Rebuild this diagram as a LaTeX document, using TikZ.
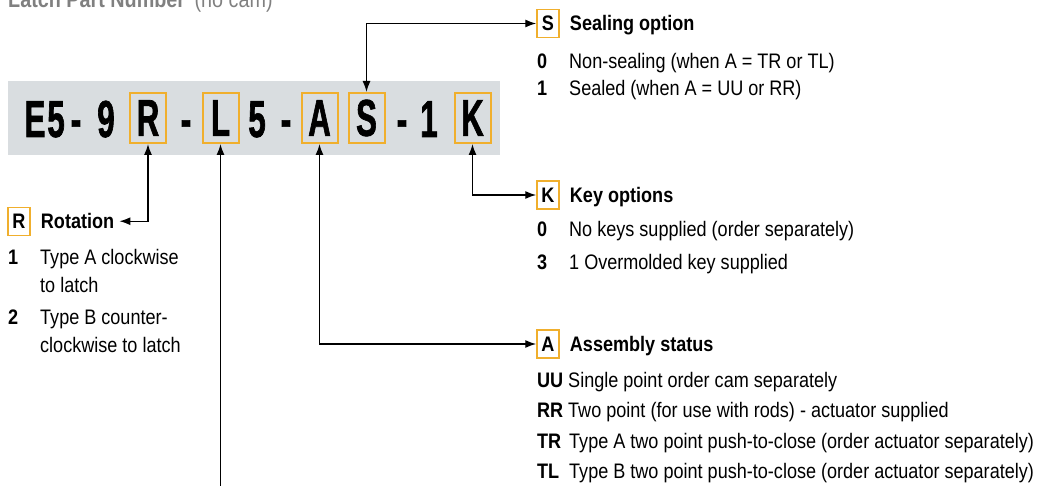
\documentclass[tikz,border=0pt]{standalone}
\usepackage{fontspec}
\setmainfont{Liberation Sans}[FakeStretch=0.86]
\newfontfamily\partfont{Liberation Sans}[FakeStretch=0.6, BoldFeatures={FakeBold=1.2}]
\usetikzlibrary{positioning,arrows.meta}
\definecolor{keyorange}{RGB}{240,175,45}
\definecolor{partgray}{RGB}{217,221,224}
\definecolor{titlegray}{RGB}{128,128,128}

\begin{document}
\begin{tikzpicture}[x=1pt, y=-1pt,
				partbox/.style={rectangle, draw=keyorange, line width=2pt, minimum width=36pt, minimum height=50pt, inner sep=0pt, font=\partfont\fontsize{52}{52}\bfseries},
				partchar/.style={anchor=base, inner sep=0pt, font=\partfont\fontsize{52}{52}\bfseries},
				keybox/.style={rectangle, draw=keyorange, line width=1.5pt, minimum width=22pt, minimum height=28pt, inner sep=0pt, font=\fontsize{21}{21}\bfseries},
				head/.style={inner sep=0pt, font=\fontsize{21}{21}\bfseries},
				code/.style={anchor=base west, inner sep=0pt, font=\fontsize{21}{21}\bfseries},
				desc/.style={anchor=base west, inner sep=0pt, align=left, font=\fontsize{21}{28}\selectfont}
			]
			\useasboundingbox (0,0) rectangle (1041,486);
			\clip (0,0) rectangle (1041,486);
			\node[anchor=base west, inner sep=0pt, text=titlegray, font=\fontsize{23}{23}\bfseries] (title) at (8,8) {Latch Part Number\hspace{4pt} \mdseries(no cam)};
			\node[fill=partgray, minimum width=492pt, minimum height=74pt, inner sep=0pt] (part) at (254,118) {};
			\foreach \x/\c [count=\i] in {35/E,56/5,76/-,106/9,186/-,257/5,286/-,402/-,429/1}
				\node[partchar] (char\i) at (\x,137) {\c};
			\node[partbox] (r) at (148,118) {R};
			\node[partbox] (l) at (220.5,118) {L};
			\node[partbox] (a) at (319.5,118) {A};
			\node[partbox] (s) at (366.5,118) {S};
			\node[partbox] (k) at (472.5,118) {K};
			\node[keybox] (sleg) at (548,23.5) {S};
			\node[head, right=10pt of sleg.base east, anchor=base west] (shead) {Sealing option};
			\node[code] (s0) at (537,68.5) {0};
			\node[desc] (s0t) at (569,68.5) {Non-sealing (when A = TR or TL)};
			\node[code] (s1) at (537,95.5) {1};
			\node[desc] (s1t) at (569,95.5) {Sealed (when A = UU or RR)};
			\node[keybox] (kleg) at (548,195) {K};
			\node[head, right=10pt of kleg.base east, anchor=base west] (khead) {Key options};
			\node[code] (k0) at (537,237) {0};
			\node[desc] (k0t) at (569,237) {No keys supplied (order separately)};
			\node[code] (k3) at (537,269.5) {3};
			\node[desc] (k3t) at (569,269.5) {1 Overmolded key supplied};
			\node[keybox] (aleg) at (548,344) {A};
			\node[head, right=10pt of aleg.base east, anchor=base west] (ahead) {Assembly status};
			\node[code] (auu) at (537,387.5) {UU};
			\node[desc] (auut) at (568,387.5) {Single point order cam separately};
			\node[code] (arr) at (537,417.5) {RR};
			\node[desc] (arrt) at (568,417.5) {Two point (for use with rods) - actuator supplied};
			\node[code] (atr) at (537,448) {TR};
			\node[desc] (atrt) at (569,448) {Type A two point push-to-close (order actuator separately)};
			\node[code] (atl) at (537,478) {TL};
			\node[desc] (atlt) at (569,478) {Type B two point push-to-close (order actuator separately)};
			\node[keybox] (rleg) at (19,221.5) {R};
			\node[head, right=10pt of rleg.base east, anchor=base west] (rhead) {Rotation};
			\node[code] (r1) at (8,264.5) {1};
			\node[desc] (r1t) at (40,292.5) {Type A clockwise\\to latch};
			\node[code] (r2) at (8,324.5) {2};
			\node[desc] (r2t) at (40,352.5) {Type B counter-\\clockwise to latch};
			\coordinate (lend) at (220.5,495);
			\begin{scope}[line width=1.4pt, {Latex[length=11pt,width=8pt]}-{Latex[length=11pt,width=8pt]}]
			\draw (s.north) |- (sleg.west);
			\draw (k.south) |- (kleg.west);
			\draw (a.south) |- (aleg.west);
			\draw[shorten >=5pt] (r.south) |- (rhead.east);
			\draw[{Latex[length=11pt,width=8pt]}-] (l.south) -- (lend);
			\end{scope}
			\end{tikzpicture}
\end{document}
